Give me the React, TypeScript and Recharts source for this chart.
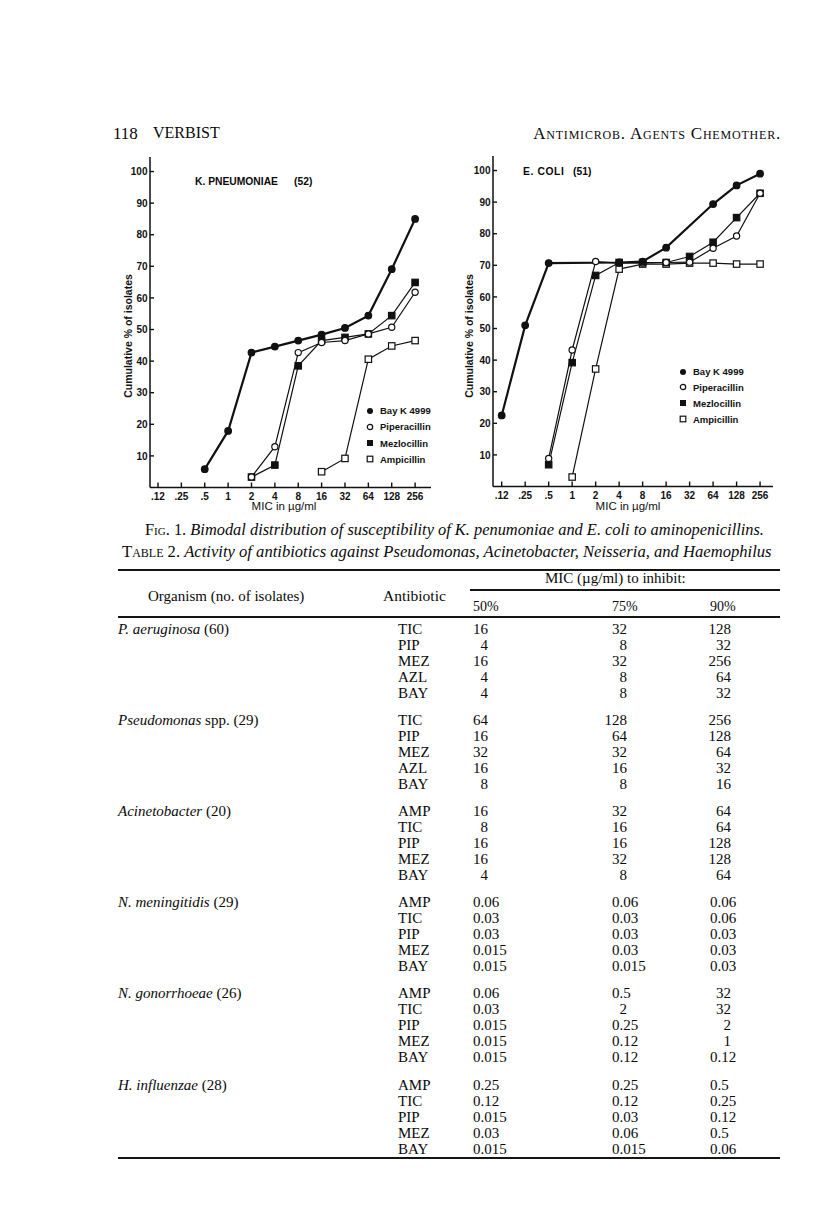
import React from 'react';
import { LineChart, Line, XAxis, YAxis, Legend } from 'recharts';

// ---------- chart data ----------
const MIC_LABELS = ['.12', '.25', '.5', '1', '2', '4', '8', '16', '32', '64', '128', '256'];
const X_IDX = MIC_LABELS.map((_, i) => i);
const Y_TICKS = [10, 20, 30, 40, 50, 60, 70, 80, 90, 100];
const SERIES_NAMES = ['Bay K 4999', 'Piperacillin', 'Mezlocillin', 'Ampicillin'];

const KP_BAY = [null, null, 5.8, 17.9, 42.7, 44.6, 46.5, 48.4, 50.5, 54.4, 69.1, 85.0];
const KP_PIP = [null, null, null, null, 3.3, 12.9, 42.7, 45.9, 46.5, 48.6, 50.7, 61.8];
const KP_MEZ = [null, null, null, null, 3.3, 7.1, 38.5, 46.5, 47.5, 48.6, 54.4, 64.9];
const KP_AMP = [null, null, null, null, null, null, null, 5.0, 9.2, 40.6, 44.8, 46.5];

const EC_BAY = [22.5, 51.0, 70.7, null, null, 70.9, 71.2, 75.6, null, 89.4, 95.3, 99.0];
const EC_PIP = [null, null, 8.9, 43.2, 71.2, 70.7, 70.7, 70.9, 71.0, 75.4, 79.3, 92.8];
const EC_MEZ = [null, null, 6.9, 39.2, 66.8, 70.9, 70.9, 70.9, 72.8, 77.3, 85.1, 92.8];
const EC_AMP = [null, null, null, 3.0, 37.2, 68.8, 70.4, 70.4, 70.7, 70.7, 70.4, 70.4];

// ---------- table data ----------
const ORG_ITALIC = ['P. aeruginosa', 'Pseudomonas', 'Acinetobacter', 'N. meningitidis', 'N. gonorrhoeae', 'H. influenzae'];
const ORG_REST = [' (60)', ' spp. (29)', ' (20)', ' (29)', ' (26)', ' (28)'];
const ANTIBIOTICS = [
  ['TIC', 'PIP', 'MEZ', 'AZL', 'BAY'],
  ['TIC', 'PIP', 'MEZ', 'AZL', 'BAY'],
  ['AMP', 'TIC', 'PIP', 'MEZ', 'BAY'],
  ['AMP', 'TIC', 'PIP', 'MEZ', 'BAY'],
  ['AMP', 'TIC', 'PIP', 'MEZ', 'BAY'],
  ['AMP', 'TIC', 'PIP', 'MEZ', 'BAY'],
];
const MIC50 = [
  ['16', '4', '16', '4', '4'],
  ['64', '16', '32', '16', '8'],
  ['16', '8', '16', '16', '4'],
  ['0.06', '0.03', '0.03', '0.015', '0.015'],
  ['0.06', '0.03', '0.015', '0.015', '0.015'],
  ['0.25', '0.12', '0.015', '0.03', '0.015'],
];
const MIC75 = [
  ['32', '8', '32', '8', '8'],
  ['128', '64', '32', '16', '8'],
  ['32', '16', '16', '32', '8'],
  ['0.06', '0.03', '0.03', '0.03', '0.015'],
  ['0.5', '2', '0.25', '0.12', '0.12'],
  ['0.25', '0.12', '0.03', '0.06', '0.015'],
];
const MIC90 = [
  ['128', '32', '256', '64', '32'],
  ['256', '128', '64', '32', '16'],
  ['64', '64', '128', '128', '64'],
  ['0.06', '0.06', '0.03', '0.03', '0.03'],
  ['32', '32', '2', '1', '0.12'],
  ['0.5', '0.25', '0.12', '0.5', '0.06'],
];

const buildRows = (bay: any[], pip: any[], mez: any[], amp: any[]) =>
  MIC_LABELS.map((c, i) => ({ i, cat: c, bay: bay[i], pip: pip[i], mez: mez[i], amp: amp[i] }));

const KP_ROWS = buildRows(KP_BAY, KP_PIP, KP_MEZ, KP_AMP);
const EC_ROWS = buildRows(EC_BAY, EC_PIP, EC_MEZ, EC_AMP);

const INK = '#111';
const SANS = '"Liberation Sans", Arial, Helvetica, sans-serif';
const SERIF = '"Liberation Serif", "Times New Roman", serif';

// ---------- marks ----------
const makeDot = (shape: 'circle' | 'square', filled: boolean) => (props: any) => {
  const { cx, cy, index, dataKey } = props;
  const key = `${dataKey}-${index}`;
  if (cx == null || cy == null || Number.isNaN(cx) || Number.isNaN(cy)) return <g key={key} />;
  if (shape === 'circle') {
    return <circle key={key} cx={cx} cy={cy} r={filled ? 3.3 : 3.1} fill={filled ? INK : '#fff'} stroke={INK} strokeWidth={1.2} />;
  }
  return <rect key={key} x={cx - 3.2} y={cy - 3.2} width={6.4} height={6.4} fill={filled ? INK : '#fff'} stroke={INK} strokeWidth={1.2} />;
};

const YTick = (props: any) => {
  const { x, y, payload } = props;
  return (
    <g>
      <line x1={x} x2={x + 4} y1={y} y2={y} stroke={INK} strokeWidth={1.4} />
      <text x={x - 2.5} y={y} dy={3.6} textAnchor="end" fontFamily={SANS} fontWeight={700} fontSize={10} fill={INK}>
        {payload.value}
      </text>
    </g>
  );
};

const XTick = (props: any) => {
  const { x, y, payload } = props;
  return (
    <g>
      <line x1={x} x2={x} y1={y} y2={y - 5} stroke={INK} strokeWidth={1.4} />
      <text x={x} y={y + 12.5} textAnchor="middle" fontFamily={SANS} fontWeight={700} fontSize={10} fill={INK}>
        {MIC_LABELS[payload.value]}
      </text>
    </g>
  );
};

const LegendMarker = ({ idx }: { idx: number }) => (
  <svg width={10} height={10} style={{ display: 'block' }}>
    {idx === 0 && <circle cx={5} cy={5} r={3} fill={INK} />}
    {idx === 1 && <circle cx={5} cy={5} r={2.7} fill="#fff" stroke={INK} strokeWidth={1.2} />}
    {idx === 2 && <rect x={2} y={2} width={6} height={6} fill={INK} />}
    {idx === 3 && <rect x={2.2} y={2.2} width={5.6} height={5.6} fill="#fff" stroke={INK} strokeWidth={1.2} />}
  </svg>
);

const makeLegend = (rowH: number) => () => (
  <div style={{ fontFamily: SANS, fontWeight: 700, fontSize: 9.5, color: INK }}>
    {SERIES_NAMES.map((n, i) => (
      <div key={n} style={{ display: 'flex', alignItems: 'center', height: rowH, whiteSpace: 'nowrap' }}>
        <LegendMarker idx={i} />
        <span style={{ marginLeft: 5 }}>{n}</span>
      </div>
    ))}
  </div>
);

type ChartProps = {
  rows: any[];
  left: number;
  top: number;
  width: number;
  height: number;
  margin: { top: number; right: number; bottom: number; left: number };
  xDomain: [number, number];
  xAxisHeight: number;
  legendLeft: number;
  legendTop: number;
  legendRowH: number;
};

const MicChart = (p: ChartProps) => (
  <div style={{ position: 'absolute', left: p.left, top: p.top, width: p.width, height: p.height }}>
    <LineChart width={p.width} height={p.height} data={p.rows} margin={p.margin}>
      <XAxis
        dataKey="i"
        type="number"
        domain={p.xDomain}
        ticks={X_IDX}
        interval={0}
        tick={<XTick />}
        tickLine={false}
        tickSize={0}
        tickMargin={0}
        height={p.xAxisHeight}
        axisLine={{ stroke: INK, strokeWidth: 1.5 }}
        allowDataOverflow
      />
      <YAxis
        type="number"
        domain={[0, 104.6]}
        ticks={Y_TICKS}
        interval={0}
        tick={<YTick />}
        tickLine={false}
        tickSize={0}
        tickMargin={0}
        width={40}
        axisLine={{ stroke: INK, strokeWidth: 1.5 }}
        allowDataOverflow
      />
      <Line type="linear" dataKey="amp" name="Ampicillin" stroke={INK} strokeWidth={1.2} connectNulls isAnimationActive={false} dot={makeDot('square', false)} activeDot={false} />
      <Line type="linear" dataKey="mez" name="Mezlocillin" stroke={INK} strokeWidth={1.2} connectNulls isAnimationActive={false} dot={makeDot('square', true)} activeDot={false} />
      <Line type="linear" dataKey="pip" name="Piperacillin" stroke={INK} strokeWidth={1.2} connectNulls isAnimationActive={false} dot={makeDot('circle', false)} activeDot={false} />
      <Line type="linear" dataKey="bay" name="Bay K 4999" stroke={INK} strokeWidth={2.2} connectNulls isAnimationActive={false} dot={makeDot('circle', true)} activeDot={false} />
      <Legend
        layout="vertical"
        align="center"
        verticalAlign="middle"
        wrapperStyle={{ left: p.legendLeft, top: p.legendTop, width: 90, margin: 0 }}
        content={makeLegend(p.legendRowH)}
      />
    </LineChart>
  </div>
);

// ---------- text helpers ----------
const Txt = ({ x, cy, size, family = SERIF, style = {}, children }: any) => (
  <div
    style={{
      position: 'absolute',
      left: x,
      top: cy - size * 0.5,
      fontSize: size,
      lineHeight: 1,
      fontFamily: family,
      whiteSpace: 'nowrap',
      color: '#0a0a0a',
      ...style,
    }}
  >
    {children}
  </div>
);

const Rule = ({ x1, x2, y, w }: any) => (
  <div style={{ position: 'absolute', left: x1, top: y - w / 2, width: x2 - x1, height: w, background: '#151515' }} />
);

const VLabel = ({ cx, cy, text }: any) => (
  <div
    style={{
      position: 'absolute',
      left: cx - 80,
      top: cy - 6,
      width: 160,
      height: 12,
      lineHeight: '12px',
      textAlign: 'center',
      transform: 'rotate(-90deg)',
      fontFamily: SANS,
      fontWeight: 700,
      fontSize: 10.5,
      color: INK,
      whiteSpace: 'nowrap',
    }}
  >
    {text}
  </div>
);

const TB = 15; // table font size
const isDecimal = (s: string) => s.indexOf('.') >= 0;

const Cell = ({ left, right, cy, value }: any) =>
  isDecimal(value) ? (
    <Txt x={left} cy={cy} size={TB}>{value}</Txt>
  ) : (
    <div
      style={{
        position: 'absolute',
        left: right - 40,
        width: 40,
        textAlign: 'right',
        top: cy - TB * 0.5,
        fontSize: TB,
        lineHeight: 1,
        fontFamily: SERIF,
        color: '#0a0a0a',
      }}
    >
      {value}
    </div>
  );

export default function App() {
  const groupTop = 629;
  const groupStep = 91.2;
  const rowStep = 16;
  return (
    <div
      style={{
        position: 'absolute',
        left: 0,
        top: 0,
        width: 816,
        height: 1229,
        background: '#fff',
        overflow: 'hidden',
        fontFamily: SERIF,
      }}
    >
      {/* running head */}
      <Txt x={113} cy={133} size={17}>118</Txt>
      <Txt x={153} cy={133} size={16}>VERBIST</Txt>
      <div
        style={{
          position: 'absolute',
          right: 816 - 781,
          top: 133 - 8.5,
          fontSize: 17,
          lineHeight: 1,
          letterSpacing: 0.8,
          fontFamily: SERIF,
          fontVariant: 'small-caps',
          whiteSpace: 'nowrap',
          color: '#0a0a0a',
        }}
      >
        Antimicrob. Agents Chemother.
      </div>

      {/* charts */}
      <MicChart
        rows={KP_ROWS}
        left={100}
        top={140}
        width={340}
        height={370}
        margin={{ top: 17, right: 9, bottom: 0, left: 10 }}
        xDomain={[-0.342, 11.68]}
        xAxisHeight={22.5}
        legendLeft={265}
        legendTop={262.6}
        legendRowH={16.2}
      />
      <MicChart
        rows={EC_ROWS}
        left={443}
        top={140}
        width={339}
        height={370}
        margin={{ top: 16, right: 9, bottom: 0, left: 10 }}
        xDomain={[-0.37, 11.55]}
        xAxisHeight={23.5}
        legendLeft={235}
        legendTop={223.8}
        legendRowH={15.8}
      />

      {/* chart titles and axis labels */}
      <Txt x={195} cy={182} size={10.3} family={SANS} style={{ fontWeight: 700 }}>K. PNEUMONIAE</Txt>
      <Txt x={294} cy={182} size={10.3} family={SANS} style={{ fontWeight: 700 }}>(52)</Txt>
      <Txt x={523} cy={172} size={10.3} family={SANS} style={{ fontWeight: 700, letterSpacing: 0.6 }}>E. COLI</Txt>
      <Txt x={573} cy={172} size={10.3} family={SANS} style={{ fontWeight: 700 }}>(51)</Txt>
      <VLabel cx={128} cy={336} text="Cumulative % of isolates" />
      <VLabel cx={469} cy={336} text="Cumulative % of isolates" />
      <div style={{ position: 'absolute', left: 184, width: 200, textAlign: 'center', top: 501, fontFamily: SANS, fontSize: 11.5, lineHeight: 1, color: INK }}>
        MIC in µg/ml
      </div>
      <div style={{ position: 'absolute', left: 528, width: 200, textAlign: 'center', top: 501, fontFamily: SANS, fontSize: 11.5, lineHeight: 1, color: INK }}>
        MIC in µg/ml
      </div>

      {/* captions */}
      <Txt x={145} cy={530} size={16.4}>
        <span style={{ fontVariant: 'small-caps' }}>Fig.</span> 1.{' '}
        <i>Bimodal distribution of susceptibility of K. penumoniae and E. coli to aminopenicillins.</i>
      </Txt>
      <Txt x={122} cy={552} size={16.6}>
        <span style={{ fontVariant: 'small-caps' }}>Table</span> 2.{' '}
        <i>Activity of antibiotics against Pseudomonas, Acinetobacter, Neisseria, and Haemophilus</i>
      </Txt>

      {/* table header */}
      <Rule x1={118} x2={780} y={570} w={1.6} />
      <Txt x={545} cy={578} size={15}>MIC (µg/ml) to inhibit:</Txt>
      <Rule x1={470} x2={780} y={590} w={1.2} />
      <Txt x={148} cy={596} size={15}>Organism (no. of isolates)</Txt>
      <Txt x={383} cy={596} size={15.5}>Antibiotic</Txt>
      <Txt x={473} cy={607} size={14}>50%</Txt>
      <Txt x={612} cy={607} size={14}>75%</Txt>
      <Txt x={710} cy={607} size={14}>90%</Txt>
      <Rule x1={118} x2={780} y={617} w={1.6} />

      {/* table body */}
      {ORG_ITALIC.map((org, g) => {
        const y0 = groupTop + g * groupStep;
        return (
          <React.Fragment key={org}>
            <Txt x={118} cy={y0} size={TB}>
              <i>{org}</i>
              {ORG_REST[g]}
            </Txt>
            {ANTIBIOTICS[g].map((ab, r) => {
              const cy = y0 + r * rowStep;
              return (
                <React.Fragment key={ab + r}>
                  <Txt x={398} cy={cy} size={TB}>{ab}</Txt>
                  <Cell left={473} right={488} cy={cy} value={MIC50[g][r]} />
                  <Cell left={612} right={627} cy={cy} value={MIC75[g][r]} />
                  <Cell left={710} right={731} cy={cy} value={MIC90[g][r]} />
                </React.Fragment>
              );
            })}
          </React.Fragment>
        );
      })}
      <Rule x1={118} x2={780} y={1157.5} w={2} />
    </div>
  );
}
